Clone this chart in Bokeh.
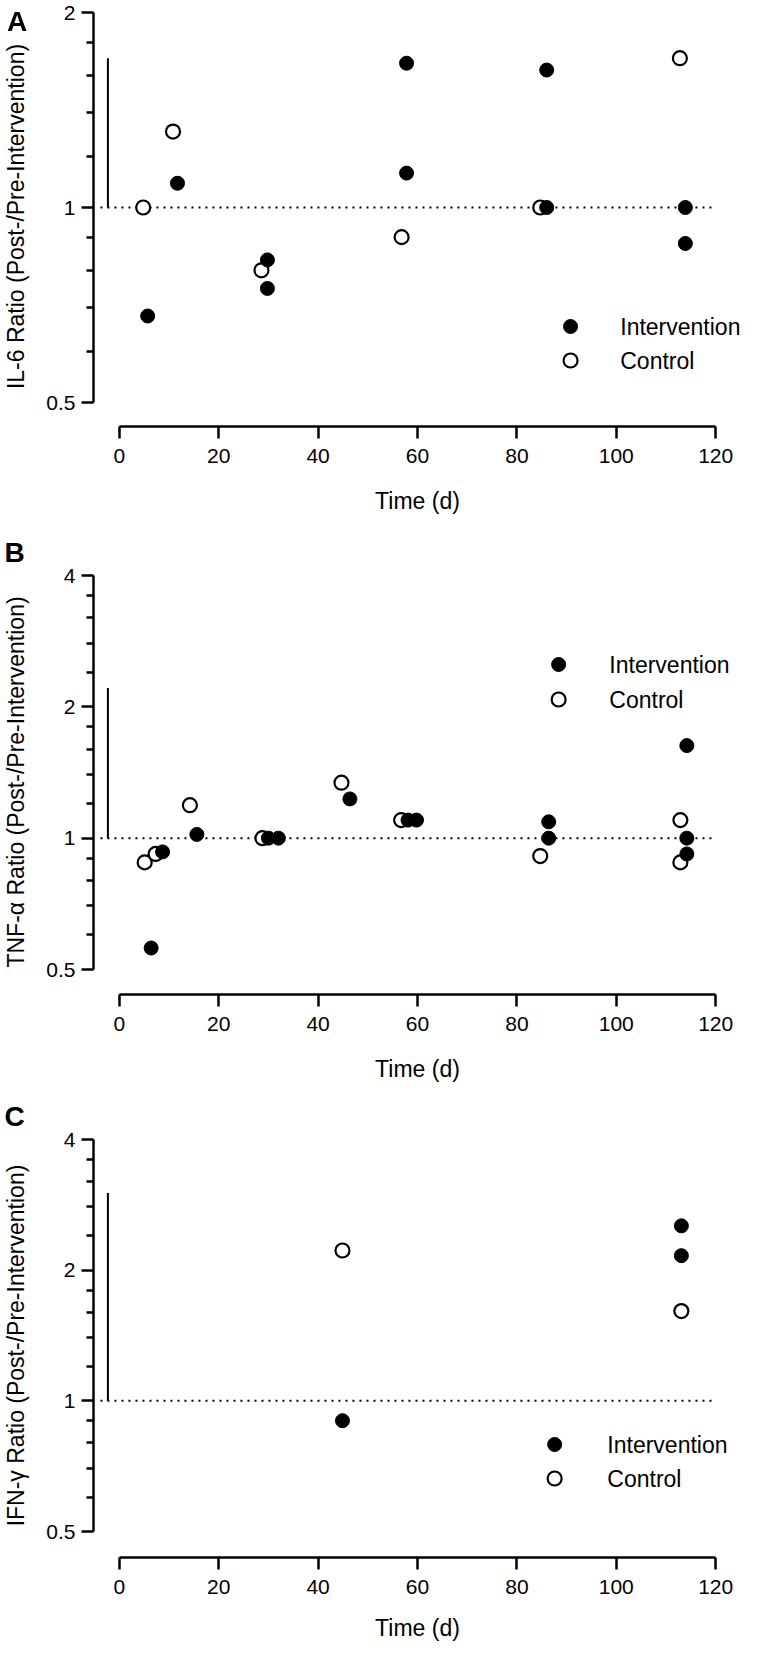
import math
from bokeh.plotting import figure
from bokeh.layouts import column
from bokeh.models import FixedTicker, BasicTickFormatter, Range1d, Title, Div
from bokeh.core.properties import value
from bokeh.embed import file_html
from bokeh.resources import INLINE

FONT = "Liberation Sans"

# ---------------- data ----------------
# Panel A: IL-6
a_int_day = [5.7, 11.7, 29.8, 29.8, 57.8, 57.8, 86.0, 86.0, 113.9, 113.9]
a_int_ratio = [0.68, 1.09, 0.83, 0.75, 1.67, 1.13, 1.63, 1.00, 1.00, 0.88]
a_ctl_day = [4.8, 10.8, 28.6, 56.8, 84.7, 112.8]
a_ctl_ratio = [1.00, 1.31, 0.80, 0.90, 1.00, 1.70]

# Panel B: TNF-alpha
b_int_day = [6.4, 8.7, 15.6, 30.0, 32.0, 46.4, 58.1, 59.8, 86.4, 86.4, 114.2, 114.2, 114.2]
b_int_ratio = [0.56, 0.93, 1.02, 1.00, 1.00, 1.23, 1.10, 1.10, 1.09, 1.00, 1.63, 1.00, 0.92]
b_ctl_day = [5.1, 7.3, 14.2, 28.8, 44.7, 56.7, 84.7, 112.9, 112.9]
b_ctl_ratio = [0.88, 0.92, 1.19, 1.00, 1.34, 1.10, 0.91, 1.10, 0.88]

# Panel C: IFN-gamma
c_int_day = [44.9, 113.1, 113.1]
c_int_ratio = [0.90, 2.53, 2.16]
c_ctl_day = [44.9, 113.1]
c_ctl_ratio = [2.22, 1.61]

# vertical reference bars (at x = -2.3 d, from 1 up to this value)
bar_day = -2.3
bar_top = [1.70, 2.21, 3.01]

x_ticks = [0, 20, 40, 60, 80, 100, 120]
y_ticks_a = [0.5, 1, 2]
y_minor_a = [0.6, 0.7, 0.8, 0.9, 1.2, 1.4, 1.6, 1.8]
y_ticks_bc = [0.5, 1, 2, 4]
y_minor_bc = [0.6, 0.7, 0.8, 0.9, 1.2, 1.4, 1.6, 1.8, 2.4, 2.8, 3.2, 3.6]

legend_labels = ["Intervention", "Control"]

# ---------------- layout (page pixels) ----------------
X0_PX = 123.0      # page x of day 0
PX_PER_DAY = 5.0
FRAME_LEFT = 97
FIG_W = 741

panels = [
    dict(letter="A", title="IL-6 Ratio (Post-/Pre-Intervention)",
         idata=(a_int_day, a_int_ratio), cdata=(a_ctl_day, a_ctl_ratio),
         ymax=2, ticks=y_ticks_a, minor=y_minor_a, bar=bar_top[0],
         fig_top=8, fig_h=532, top_px=20, bot_px=410, xaxis_px=434,
         leg_x=577, leg_y=(334, 368), leg_tx=627, tstand=22),
    dict(letter="B", title="TNF-\u03b1 Ratio (Post-/Pre-Intervention)",
         idata=(b_int_day, b_int_ratio), cdata=(b_ctl_day, b_ctl_ratio),
         ymax=4, ticks=y_ticks_bc, minor=y_minor_bc, bar=bar_top[1],
         fig_top=540, fig_h=565, top_px=583, bot_px=977, xaxis_px=1002,
         leg_x=565, leg_y=(672, 707), leg_tx=616, tstand=22),
    dict(letter="C", title="IFN-\u03b3 Ratio (Post-/Pre-Intervention)",
         idata=(c_int_day, c_int_ratio), cdata=(c_ctl_day, c_ctl_ratio),
         ymax=4, ticks=y_ticks_bc, minor=y_minor_bc, bar=bar_top[2],
         fig_top=1105, fig_h=547, top_px=1147, bot_px=1539, xaxis_px=1565,
         leg_x=561, leg_y=(1452, 1486), leg_tx=614, tstand=18),
]


def make_panel(s, idx):
    d = (s["bot_px"] - s["top_px"]) / math.log2(s["ymax"] / 0.5)
    one_px = s["bot_px"] - d

    def yv(page_y):
        return 2 ** ((one_px - page_y) / d)

    def xv(page_x):
        return (page_x - X0_PX) / PX_PER_DAY

    frame_top = s["top_px"] - 6
    y_start = yv(s["xaxis_px"])
    y_end = yv(frame_top)
    x_start = xv(FRAME_LEFT)
    x_end = xv(8 + FIG_W)

    p = figure(width=FIG_W, height=s["fig_h"], y_axis_type="log",
               x_range=Range1d(x_start, x_end), y_range=Range1d(y_start, y_end),
               output_backend="svg", toolbar_location=None,
               min_border_left=FRAME_LEFT - 8, min_border_right=0,
               min_border_top=frame_top - s["fig_top"],
               min_border_bottom=s["fig_top"] + s["fig_h"] - s["xaxis_px"])
    p.outline_line_color = None
    p.grid.grid_line_color = None
    p.background_fill_color = "white"
    p.border_fill_color = "white"

    # y axis
    ya = p.yaxis[0]
    ya.ticker = FixedTicker(ticks=s["ticks"], minor_ticks=s["minor"])
    ya.formatter = BasicTickFormatter()
    ya.bounds = (0.5, s["ymax"])
    ya.axis_label = s["title"]
    # x axis
    xa = p.xaxis[0]
    xa.ticker = FixedTicker(ticks=x_ticks, minor_ticks=[])
    xa.bounds = (0, 120)
    xa.axis_label = "Time (d)"
    for ax in (xa, ya):
        ax.axis_line_width = 2.5
        ax.axis_line_color = "black"
        ax.major_tick_line_width = 2.5
        ax.major_tick_line_color = "black"
        ax.minor_tick_line_width = 2.5
        ax.minor_tick_line_color = "black"
        ax.major_tick_out = 12
        ax.major_tick_in = 0
        ax.minor_tick_out = 7
        ax.minor_tick_in = 0
        ax.major_label_text_font = FONT
        ax.major_label_text_font_size = "21px"
        ax.major_label_text_color = "black"
        ax.axis_label_text_font = FONT
        ax.axis_label_text_font_size = "23px"
        ax.axis_label_text_font_style = "normal"
        ax.axis_label_text_color = "black"
    ya.major_label_standoff = 6
    ya.axis_label_standoff = 14
    xa.major_label_standoff = 10
    xa.axis_label_standoff = s["tstand"]

    # reference lines
    p.line(x=[-3.8, 120], y=[1, 1], line_color="black", line_width=2,
           line_dash="2 5")
    p.segment(x0=[bar_day], y0=[1], x1=[bar_day], y1=[s["bar"]],
              line_color="black", line_width=2)

    # data
    cx, cy = s["cdata"]
    ix, iy = s["idata"]
    p.scatter(cx, cy, size=14, marker="circle", fill_color="white",
              line_color="black", line_width=2.2)
    p.scatter(ix, iy, size=14, marker="circle", fill_color="black",
              line_color="black", line_width=1)

    # legend (drawn manually)
    lx = xv(s["leg_x"])
    ly = [yv(s["leg_y"][0]), yv(s["leg_y"][1])]
    p.scatter([lx], [ly[0]], size=14, marker="circle", fill_color="black",
              line_color="black", line_width=1)
    p.scatter([lx], [ly[1]], size=14, marker="circle", fill_color="white",
              line_color="black", line_width=2.2)
    p.text(x=[xv(s["leg_tx"])] * 2, y=ly, text=legend_labels,
           text_font=value(FONT), text_font_size="23px", text_color="black",
           text_baseline="middle", text_align="left")

    # panel letter (B, C sit in the gap above the frame)
    if idx > 0:
        p.add_layout(Title(text=s["letter"], align="left",
                           offset=-(FRAME_LEFT - 8), standoff=0,
                           vertical_align="top",
                           text_font=FONT, text_font_size="28px",
                           text_font_style="bold", text_color="black"),
                     "above")
    return p


figs = [make_panel(s, i) for i, s in enumerate(panels)]

# panel letter A: beside the top of panel A's axis, no room for a title there
letter_a = Div(text="A", width=30, height=34,
               styles={"position": "fixed", "left": "2px", "top": "3px",
                       "z-index": "10", "font-family": FONT,
                       "font-size": "28px", "font-weight": "bold",
                       "line-height": "28px", "color": "black"})

layout = column(*figs, letter_a, spacing=0)
open("out.html", "w").write(file_html(layout, INLINE))
